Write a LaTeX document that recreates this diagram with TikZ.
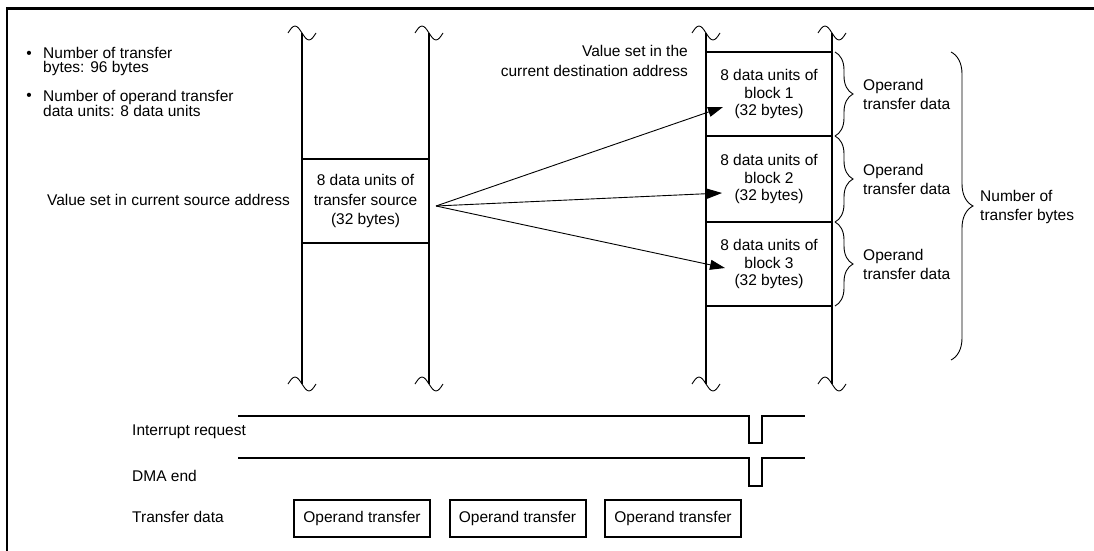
\documentclass[tikz,border=0pt]{standalone}
\usepackage{fontspec}
\setmainfont{Liberation Sans}
\usetikzlibrary{arrows.meta,decorations.pathreplacing,calc}
\tikzset{
  col/.style={line width=2pt},
  blk/.style={draw, line width=2pt, minimum width=127pt, align=center, inner sep=0pt},
  squig/.pic={\draw[line width=0.9pt] (-14,0) sin (-7,-7) cos (0,0) sin (7,7) cos (14,0);},
  lbl/.style={inner sep=0pt, align=left},
  fan/.style={line width=0.9pt, -{Triangle[length=15pt,width=10pt]}},
  sbrace/.style={decorate, decoration={brace, amplitude=18pt}, line width=0.9pt},
  bbrace/.style={decorate, decoration={brace, amplitude=22pt}, line width=0.9pt},
  sig/.style={line width=2pt},
  obox/.style={draw, line width=2pt, minimum width=136pt, minimum height=37pt, inner sep=0pt}
}
\begin{document}
\begin{tikzpicture}[x=1pt,y=-1pt,font=\fontsize{15.5}{18}\selectfont]
\useasboundingbox (0,0) rectangle (1094,551);
% frame
\draw[line width=2.5pt] (7,551) -- (7,8.5) -- (1094,8.5);
% bullets
\node[lbl] (b1) at (29,55) {\textbullet};
\node[lbl, anchor=west, font=\fontsize{15.5}{14.5}\selectfont] (t1) at (43,61.5) {Number of transfer\\bytes: 96 bytes};
\node[lbl] (b2) at (29,97) {\textbullet};
\node[lbl, anchor=west, font=\fontsize{15.5}{14.5}\selectfont] (t2) at (43,103.5) {Number of operand transfer\\data units: 8 data units};
% source columns
\draw[col] (302,33) -- (302,384);
\draw[col] (429,33) -- (429,384);
\pic at (302,33) {squig};
\pic at (429,33) {squig};
\pic at (302,384) {squig};
\pic at (429,384) {squig};
\node[blk, minimum height=84pt, font=\fontsize{15.5}{19.5}\selectfont] (src) at (365.5,201) {8 data units of\\transfer source\\(32 bytes)};
\node[lbl, anchor=east] (srclbl) at (290,200) {Value set in current source address};
% destination columns
\draw[col] (706,33) -- (706,384);
\draw[col] (832,33) -- (832,384);
\pic at (706,33) {squig};
\pic at (832,33) {squig};
\pic at (706,384) {squig};
\pic at (832,384) {squig};
\node[blk, minimum width=126pt, minimum height=84pt, font=\fontsize{15.5}{17.5}\selectfont] (d1) at (769,94) {8 data units of\\block 1\\(32 bytes)};
\node[blk, minimum width=126pt, minimum height=86pt, font=\fontsize{15.5}{17.5}\selectfont] (d2) at (769,179) {8 data units of\\block 2\\(32 bytes)};
\node[blk, minimum width=126pt, minimum height=84pt, font=\fontsize{15.5}{17.5}\selectfont] (d3) at (769,264) {8 data units of\\block 3\\(32 bytes)};
\node[lbl, anchor=east, align=right, font=\fontsize{15.5}{20}\selectfont] (dstlbl) at (688,61) {Value set in the\\current destination address};
% fan arrows
\coordinate (fo) at (436,206);
\coordinate (a1) at (723,107);
\coordinate (a2) at (722,193);
\coordinate (a3) at (725,268);
\draw[fan] (fo) -- (a1);
\draw[fan] (fo) -- (a2);
\draw[fan] (fo) -- (a3);
% small braces
\coordinate (s0) at (835,52);
\coordinate (s1) at (835,136);
\coordinate (s2) at (835,222);
\coordinate (s3) at (835,306);
\draw[sbrace] (s0) -- (s1);
\draw[sbrace] (s1) -- (s2);
\draw[sbrace] (s2) -- (s3);
\node[lbl, anchor=west, font=\fontsize{15.5}{19}\selectfont] (o1) at (863,94) {Operand\\transfer data};
\node[lbl, anchor=west, font=\fontsize{15.5}{19}\selectfont] (o2) at (863,179) {Operand\\transfer data};
\node[lbl, anchor=west, font=\fontsize{15.5}{19}\selectfont] (o3) at (863,264) {Operand\\transfer data};
% big brace
\coordinate (g0) at (951,52);
\coordinate (g1) at (951,360);
\draw[bbrace] (g0) -- (g1);
\node[lbl, anchor=west, font=\fontsize{15.5}{19}\selectfont] (nb) at (980,207) {Number of\\transfer bytes};
% signals
\coordinate (i0) at (238,416);
\coordinate (i1) at (805,416);
\draw[sig] (i0) -- (749,416) -- (749,443) -- (762,443) -- (762,416) -- (i1);
\coordinate (m0) at (238,458);
\coordinate (m1) at (805,458);
\draw[sig] (m0) -- (749,458) -- (749,486) -- (762,486) -- (762,458) -- (m1);
\node[lbl, anchor=west] (il) at (132,432) {Interrupt request};
\node[lbl, anchor=west] (ml) at (132,476) {DMA end};
\node[lbl, anchor=west] (tl) at (132,517) {Transfer data};
\node[obox] (ob1) at (362,518.5) {Operand transfer};
\node[obox] (ob2) at (517.5,518.5) {Operand transfer};
\node[obox] (ob3) at (673,518.5) {Operand transfer};
\end{tikzpicture}
\end{document}
